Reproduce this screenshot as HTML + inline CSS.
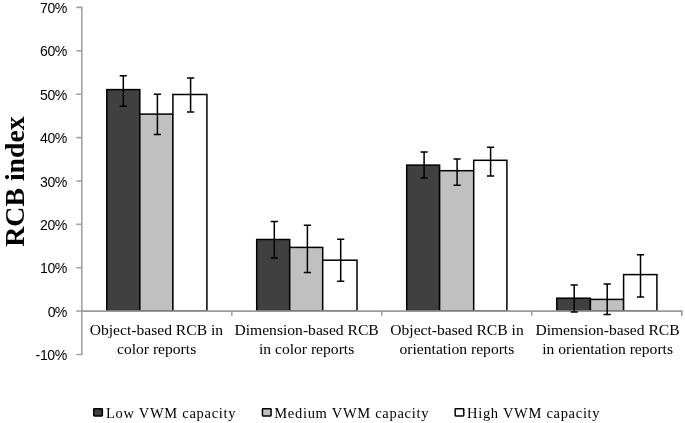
<!DOCTYPE html>
<html><head><meta charset="utf-8"><style>
html,body{margin:0;padding:0;background:#fff;}
body{width:685px;height:423px;overflow:hidden;}
svg{display:block;will-change:transform;}
text{fill:#000;}
.yl{font-family:"Liberation Sans",sans-serif;font-size:14.1px;}
.cl{font-family:"Liberation Serif",serif;font-size:15.6px;}
.lg{font-family:"Liberation Serif",serif;font-size:14.5px;}
.tt{font-family:"Liberation Serif",serif;font-size:27.8px;font-weight:bold;}
</style></head><body>
<svg width="685" height="423" viewBox="0 0 685 423">
<rect x="106.8" y="89.6" width="33.0" height="221.4" fill="#404040" stroke="#000" stroke-width="1.5"/>
<rect x="139.8" y="114.1" width="33.1" height="196.9" fill="#c0c0c0" stroke="#000" stroke-width="1.5"/>
<rect x="172.9" y="94.5" width="34.0" height="216.5" fill="#ffffff" stroke="#000" stroke-width="1.5"/>
<rect x="256.7" y="239.5" width="33.0" height="71.5" fill="#404040" stroke="#000" stroke-width="1.5"/>
<rect x="289.7" y="247.4" width="33.0" height="63.6" fill="#c0c0c0" stroke="#000" stroke-width="1.5"/>
<rect x="322.7" y="260.2" width="34.3" height="50.8" fill="#ffffff" stroke="#000" stroke-width="1.5"/>
<rect x="406.7" y="165.1" width="32.9" height="145.9" fill="#404040" stroke="#000" stroke-width="1.5"/>
<rect x="439.6" y="170.7" width="34.1" height="140.3" fill="#c0c0c0" stroke="#000" stroke-width="1.5"/>
<rect x="473.7" y="160.3" width="33.2" height="150.7" fill="#ffffff" stroke="#000" stroke-width="1.5"/>
<rect x="556.8" y="298.2" width="33.6" height="12.8" fill="#404040" stroke="#000" stroke-width="1.5"/>
<rect x="590.4" y="299.4" width="33.2" height="11.6" fill="#c0c0c0" stroke="#000" stroke-width="1.5"/>
<rect x="623.6" y="274.6" width="33.3" height="36.4" fill="#ffffff" stroke="#000" stroke-width="1.5"/>
<path d="M76.3 7.4H81.8V354.5H76.3" fill="none" stroke="#a2a2a2" stroke-width="1.6"/>
<path d="M76.3 50.8H81.8" stroke="#a2a2a2" stroke-width="1.6"/>
<path d="M76.3 94.2H81.8" stroke="#a2a2a2" stroke-width="1.6"/>
<path d="M76.3 137.6H81.8" stroke="#a2a2a2" stroke-width="1.6"/>
<path d="M76.3 181.0H81.8" stroke="#a2a2a2" stroke-width="1.6"/>
<path d="M76.3 224.3H81.8" stroke="#a2a2a2" stroke-width="1.6"/>
<path d="M76.3 267.7H81.8" stroke="#a2a2a2" stroke-width="1.6"/>
<path d="M76.3 311.1H81.8" stroke="#a2a2a2" stroke-width="1.6"/>
<path d="M81.8 311.1H681.8V315.8" fill="none" stroke="#9a9a9a" stroke-width="1.7"/>
<path d="M231.8 311.0V315.8" stroke="#a2a2a2" stroke-width="1.6"/>
<path d="M381.8 311.0V315.8" stroke="#a2a2a2" stroke-width="1.6"/>
<path d="M531.8 311.0V315.8" stroke="#a2a2a2" stroke-width="1.6"/>
<path d="M123.3 75.7V106.2M119.7 75.7H126.9M119.7 106.2H126.9" stroke="#000" stroke-width="1.5" fill="none"/>
<path d="M157.4 94.2V134.5M153.8 94.2H161.0M153.8 134.5H161.0" stroke="#000" stroke-width="1.5" fill="none"/>
<path d="M190.6 78.1V112.0M187.0 78.1H194.2M187.0 112.0H194.2" stroke="#000" stroke-width="1.5" fill="none"/>
<path d="M274.3 221.6V258.1M270.7 221.6H277.9M270.7 258.1H277.9" stroke="#000" stroke-width="1.5" fill="none"/>
<path d="M307.4 225.3V272.4M303.8 225.3H311.0M303.8 272.4H311.0" stroke="#000" stroke-width="1.5" fill="none"/>
<path d="M340.7 239.2V281.3M337.1 239.2H344.3M337.1 281.3H344.3" stroke="#000" stroke-width="1.5" fill="none"/>
<path d="M424.1 152.0V178.0M420.5 152.0H427.7M420.5 178.0H427.7" stroke="#000" stroke-width="1.5" fill="none"/>
<path d="M457.1 159.1V185.2M453.5 159.1H460.7M453.5 185.2H460.7" stroke="#000" stroke-width="1.5" fill="none"/>
<path d="M490.6 147.3V176.0M487.0 147.3H494.2M487.0 176.0H494.2" stroke="#000" stroke-width="1.5" fill="none"/>
<path d="M574.2 285.1V312.0M570.6 285.1H577.8M570.6 312.0H577.8" stroke="#000" stroke-width="1.5" fill="none"/>
<path d="M607.2 284.0V314.5M603.6 284.0H610.8M603.6 314.5H610.8" stroke="#000" stroke-width="1.5" fill="none"/>
<path d="M640.5 254.7V297.0M636.9 254.7H644.1M636.9 297.0H644.1" stroke="#000" stroke-width="1.5" fill="none"/>
<text id="y0" x="67.40" y="13.00" text-anchor="end" textLength="27.33" lengthAdjust="spacing" class="yl">70%</text>
<text id="y1" x="67.40" y="56.39" text-anchor="end" textLength="27.33" lengthAdjust="spacing" class="yl">60%</text>
<text id="y2" x="67.40" y="99.78" text-anchor="end" textLength="27.33" lengthAdjust="spacing" class="yl">50%</text>
<text id="y3" x="67.40" y="143.16" text-anchor="end" textLength="27.33" lengthAdjust="spacing" class="yl">40%</text>
<text id="y4" x="67.40" y="186.55" text-anchor="end" textLength="27.33" lengthAdjust="spacing" class="yl">30%</text>
<text id="y5" x="67.40" y="229.94" text-anchor="end" textLength="27.33" lengthAdjust="spacing" class="yl">20%</text>
<text id="y6" x="67.40" y="273.33" text-anchor="end" textLength="27.33" lengthAdjust="spacing" class="yl">10%</text>
<text id="y7" x="67.40" y="316.71" text-anchor="end" textLength="19.72" lengthAdjust="spacing" class="yl">0%</text>
<text id="y8" x="67.40" y="360.10" text-anchor="end" textLength="31.87" lengthAdjust="spacing" class="yl">-10%</text>
<text id="c0a" x="156.40" y="335.40" text-anchor="middle" class="cl">Object-based RCB in</text>
<text id="c0b" x="156.60" y="354.00" text-anchor="middle" class="cl">color reports</text>
<text id="c1a" x="306.60" y="335.40" text-anchor="middle" class="cl">Dimension-based RCB</text>
<text id="c1b" x="306.60" y="354.00" text-anchor="middle" class="cl">in color reports</text>
<text id="c2a" x="457.00" y="335.40" text-anchor="middle" class="cl">Object-based RCB in</text>
<text id="c2b" x="456.90" y="354.00" text-anchor="middle" class="cl">orientation reports</text>
<text id="c3a" x="607.50" y="335.40" text-anchor="middle" class="cl">Dimension-based RCB</text>
<text id="c3b" x="607.60" y="354.00" text-anchor="middle" class="cl">in orientation reports</text>
<text id="tt" transform="translate(23.6,181.5) rotate(-90)" text-anchor="middle" class="tt">RCB index</text>
<rect x="93.75" y="408.7" width="8.6" height="7.2" rx="0.6" fill="#404040" stroke="#000" stroke-width="1.5"/>
<text id="l0" x="105.90" y="417.70" textLength="129.70" lengthAdjust="spacing" class="lg">Low VWM capacity</text>
<rect x="262.45" y="408.7" width="8.6" height="7.2" rx="0.6" fill="#c0c0c0" stroke="#000" stroke-width="1.5"/>
<text id="l1" x="274.20" y="417.70" textLength="154.30" lengthAdjust="spacing" class="lg">Medium VWM capacity</text>
<rect x="455.15" y="408.7" width="8.6" height="7.2" rx="0.6" fill="#ffffff" stroke="#000" stroke-width="1.5"/>
<text id="l2" x="467.00" y="417.70" textLength="132.60" lengthAdjust="spacing" class="lg">High VWM capacity</text>
</svg>
</body></html>
